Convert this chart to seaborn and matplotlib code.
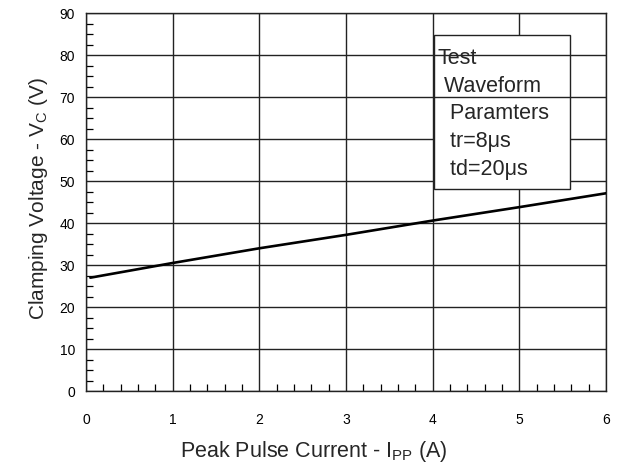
import matplotlib
matplotlib.use("Agg")
import matplotlib.pyplot as plt
from matplotlib.ticker import MultipleLocator
import seaborn as sns
import pandas as pd

# values
current = [0.05, 1, 2, 3, 4, 5, 6]
clamp_v = [27.0, 30.5, 34.0, 37.2, 40.6, 43.8, 47.1]
box_lines = ["Test", " Waveform", "  Paramters", "  tr=8\u03bcs", "  td=20\u03bcs"]

sns.set_style("white")
plt.rcParams['font.family'] = ['Liberation Sans', 'DejaVu Sans']
plt.rcParams['mathtext.fontset'] = 'custom'
plt.rcParams['mathtext.rm'] = 'Liberation Sans'
plt.rcParams['mathtext.it'] = 'Liberation Sans'

df = pd.DataFrame({'I': current, 'V': clamp_v})

fig = plt.figure(figsize=(6.19, 4.70), dpi=100)
ax = fig.add_axes([0.139, 0.168, 0.840, 0.804])

sns.lineplot(data=df, x='I', y='V', color='black', linewidth=1.9, ax=ax, zorder=4)

ax.set_xlim(0, 6)
ax.set_ylim(0, 90)
ax.xaxis.set_major_locator(MultipleLocator(1))
ax.xaxis.set_minor_locator(MultipleLocator(0.2))
ax.yaxis.set_major_locator(MultipleLocator(10))
ax.yaxis.set_minor_locator(MultipleLocator(2.5))
ax.tick_params(which='major', length=0, labelsize=10, colors='black')
ax.tick_params(axis='x', which='major', pad=16)
ax.tick_params(axis='y', which='major', pad=8)
ax.tick_params(which='minor', direction='in', length=5, width=0.9, color='black',
               bottom=True, left=True)
ax.grid(which='major', color='#222222', linewidth=1.0)
ax.set_axisbelow(True)
for s in ax.spines.values():
    s.set_color('#222222')
    s.set_linewidth(1.0)

ax.set_xlabel('Peak Pulse Current - I$_{\\mathregular{PP}}$ (A)', fontsize=15.5)
ax.xaxis.set_label_coords(0.438, -0.128)
ax.set_ylabel('Clamping Voltage - V$_{\\mathregular{C}}$ (V)', fontsize=15)
ax.yaxis.set_label_coords(-0.07, 0.51)

# note box (white fill hides part of the grid, as in the reference)
ax.add_patch(plt.Rectangle((4.02, 48.1), 1.56, 36.7, facecolor='white',
                           edgecolor='#222222', linewidth=1.0, zorder=2))
ax.hlines([70, 80], 4.02, 5.58, color='#222222', linewidth=1.0, zorder=3)
y0 = 79.2
for i, t in enumerate(box_lines):
    ax.text(4.06, y0 - i * 6.6, t, fontsize=15.5, va='center', ha='left', zorder=5)

fig.savefig('out.png', dpi=100)
